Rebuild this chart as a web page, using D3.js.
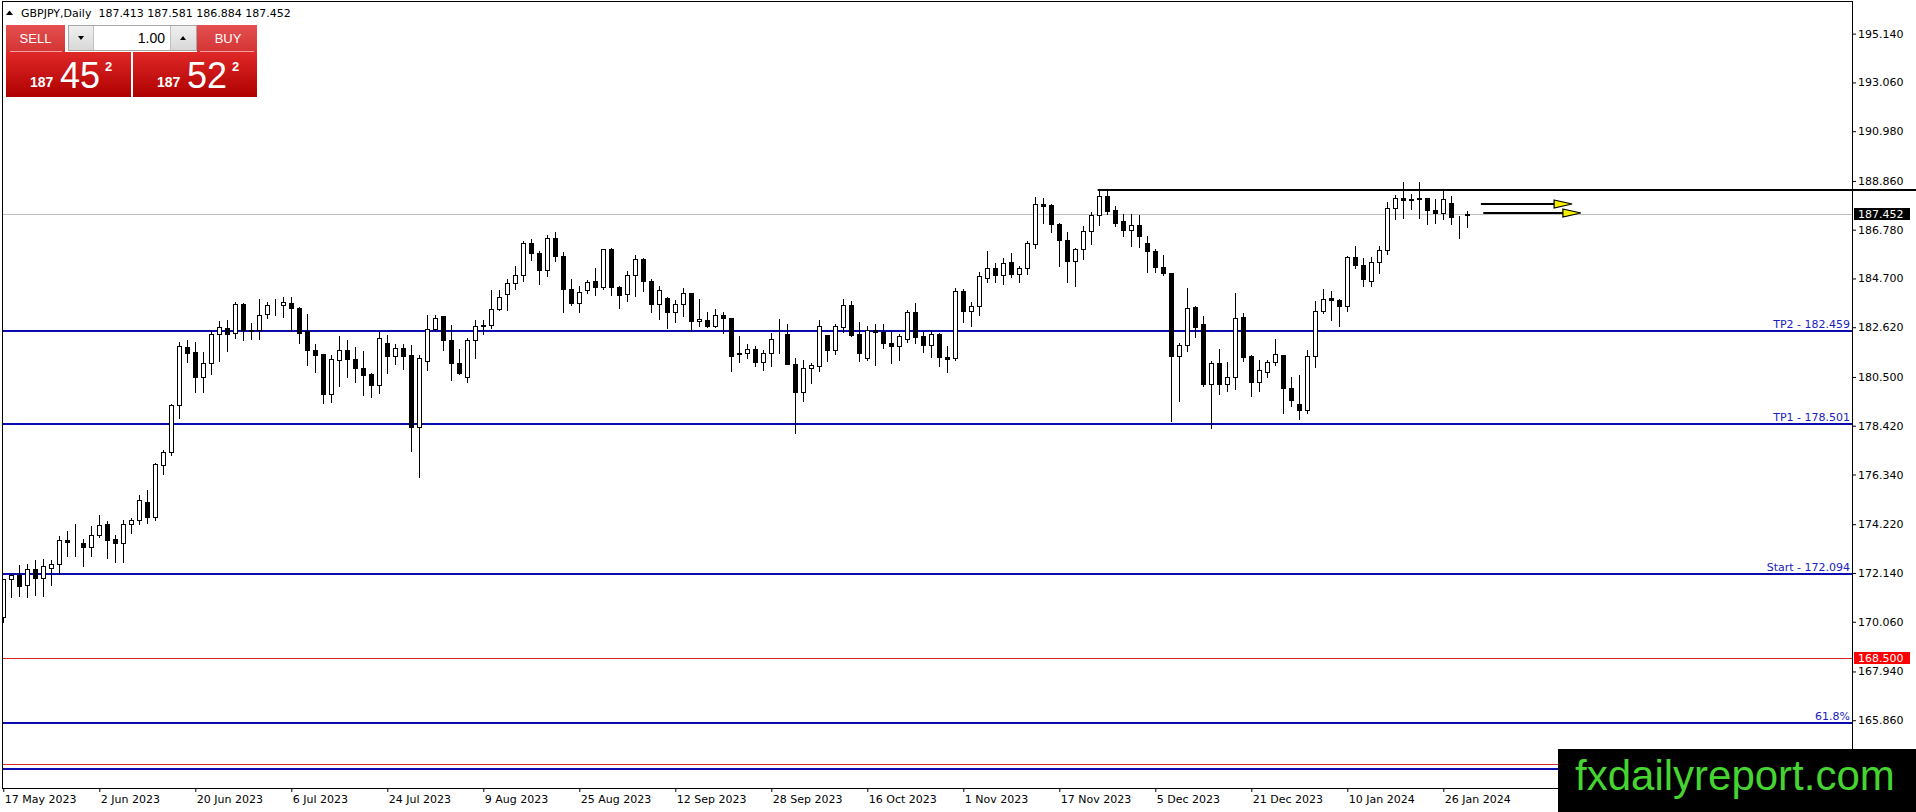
<!DOCTYPE html>
<html>
<head>
<meta charset="utf-8">
<script src="https://cdn.jsdelivr.net/npm/d3@7"></script>
<style>
body{margin:0;background:#fff;overflow:hidden}
svg{display:block}
</style>
</head>
<body>
<svg id="chart" width="1916" height="812"></svg>
<script>
const symbolTitle = "GBPJPY,Daily  187.413 187.581 186.884 187.452";

const openPrices = [
  170.26,171.87,172.07,171.64,172.32,171.94,172.36,172.52,173.56,173.47,
  173.43,173.25,173.77,174.24,173.57,173.42,174.24,174.41,175.16,174.52,
  176.76,177.31,179.32,181.79,181.55,180.50,181.11,182.35,182.60,182.37,
  183.60,182.46,182.52,183.20,183.58,183.58,183.67,183.45,182.45,181.66,
  181.47,179.79,181.24,181.66,181.28,180.90,180.62,180.17,181.96,181.41,
  181.75,181.42,178.37,181.18,182.56,183.08,182.09,181.11,180.50,182.09,
  182.67,182.73,183.41,184.05,184.52,184.86,186.22,185.79,185.07,186.43,
  185.66,184.26,183.65,184.19,184.60,184.33,185.96,184.33,184.05,184.86,
  185.51,184.60,183.62,183.88,183.27,183.62,184.09,182.88,182.94,182.67,
  183.15,183.01,181.46,181.53,181.71,181.14,181.54,182.13,182.32,181.07,
  179.87,180.90,180.97,182.28,181.67,182.63,183.58,182.32,181.31,182.52,
  182.42,181.96,181.82,182.13,183.29,182.23,181.88,182.35,181.33,181.29,
  184.18,183.31,183.51,184.72,185.14,184.85,185.41,184.89,185.14,186.16,
  187.86,187.82,187.04,186.33,185.43,185.95,186.71,187.41,188.21,187.60,
  187.15,186.77,186.98,186.23,185.88,185.20,184.93,181.40,181.85,183.48,
  182.74,180.22,181.10,180.22,180.51,183.05,181.38,180.27,180.69,181.12,
  181.43,180.01,179.35,179.10,181.40,183.31,183.87,183.79,183.52,185.60,
  185.27,184.61,185.41,185.92,187.69,188.14,188.03,188.10,188.12,187.62,
  187.51,187.90,187.33,187.413
];
const highPrices = [
  171.90,172.10,172.46,172.53,172.68,172.75,172.71,173.70,173.91,174.21,
  173.60,174.13,174.63,174.35,173.74,174.38,174.49,175.47,175.69,176.83,
  177.37,179.36,181.98,182.06,181.99,181.56,182.46,182.87,182.91,183.68,
  183.66,182.81,183.81,183.69,183.83,183.90,183.90,183.48,183.17,181.92,
  181.49,181.42,182.23,182.09,181.78,181.59,180.67,182.42,182.27,181.92,
  181.92,181.85,181.42,183.13,183.15,183.10,182.70,181.68,182.18,182.91,
  182.94,184.19,184.19,184.69,185.25,186.28,186.39,185.86,186.56,186.70,
  185.82,184.69,184.36,184.64,185.15,185.96,185.98,184.36,185.00,185.68,
  185.57,184.69,184.37,183.91,183.79,184.30,184.10,183.83,183.27,183.41,
  183.27,183.03,182.23,181.89,181.81,181.64,182.37,182.95,182.74,181.29,
  181.22,181.10,182.91,182.30,182.74,183.83,183.76,182.84,182.66,182.74,
  182.74,182.45,182.35,183.36,183.66,182.42,182.52,182.39,181.81,184.30,
  184.25,183.69,184.96,185.88,185.36,185.57,185.78,185.24,186.28,188.17,
  188.11,187.86,187.08,186.69,186.02,186.94,187.55,188.50,188.42,187.79,
  187.46,187.46,187.41,186.49,185.95,185.71,184.95,181.96,184.28,183.52,
  183.10,181.19,181.68,181.12,184.08,183.24,181.43,181.24,181.21,182.11,
  181.45,180.48,180.58,181.67,183.72,184.25,184.16,183.83,185.67,186.09,
  185.57,185.62,186.09,187.97,188.24,188.81,188.31,188.81,188.14,188.07,
  188.47,188.21,187.36,187.581
];
const lowPrices = [
  170.05,171.11,171.16,171.11,171.20,171.17,171.64,172.11,172.85,172.87,
  172.43,172.87,173.67,172.78,172.59,172.59,173.86,174.21,174.27,174.41,
  176.37,177.18,178.75,181.14,179.86,179.86,180.61,181.17,181.61,182.16,
  182.06,182.13,182.13,183.03,183.15,183.05,182.45,181.95,181.03,180.71,
  179.41,179.44,180.12,180.50,180.29,179.75,179.65,179.82,180.67,181.04,
  180.86,177.35,176.25,180.81,182.46,181.64,180.39,180.61,180.29,181.32,
  182.32,182.60,183.34,183.37,184.23,184.59,185.49,184.47,184.80,185.44,
  183.27,183.55,183.27,184.08,183.98,184.26,183.98,183.45,183.72,183.95,
  184.16,183.27,182.98,182.59,182.84,183.08,182.46,182.66,182.63,182.63,
  182.37,180.76,181.12,181.31,180.96,180.79,180.96,181.53,181.05,178.10,
  179.49,180.23,180.76,181.19,181.47,182.42,182.25,181.19,181.24,181.00,
  181.75,181.10,181.21,181.99,181.95,181.57,181.33,180.96,180.69,181.21,
  182.84,182.67,183.15,184.54,184.54,184.47,184.75,184.54,184.89,185.98,
  187.08,186.70,185.22,184.54,184.37,185.53,186.19,186.98,187.46,186.94,
  186.52,186.09,186.05,184.96,184.96,184.86,178.60,179.49,181.60,182.20,
  180.11,178.32,179.76,179.90,179.97,181.19,179.70,179.90,180.51,181.00,
  178.95,179.26,178.70,178.98,180.93,183.22,182.91,182.67,183.31,185.14,
  184.37,184.39,184.93,185.74,187.22,187.29,187.65,187.26,187.01,187.05,
  187.22,187.01,186.42,186.884
];
const closePrices = [
  171.87,172.07,171.58,172.32,171.92,172.42,172.53,173.56,173.47,173.46,
  173.25,173.77,174.19,173.54,173.42,174.24,174.42,175.26,174.52,176.77,
  177.31,179.32,181.83,181.52,180.50,181.11,182.35,182.63,182.35,183.60,
  182.49,182.52,183.15,183.58,183.56,183.71,183.45,182.37,181.66,181.44,
  179.79,181.28,181.66,181.28,180.88,180.60,180.17,182.17,181.40,181.75,
  181.41,178.37,181.32,182.56,183.03,182.09,181.10,180.67,182.09,182.67,
  182.73,183.41,183.91,184.52,184.86,186.22,185.79,185.07,186.43,185.65,
  184.23,183.65,184.12,184.57,184.33,185.96,184.33,184.01,184.86,185.54,
  184.59,183.62,184.22,183.27,183.62,184.08,182.88,182.98,182.67,183.15,
  183.01,181.40,181.54,181.71,181.14,181.54,182.13,182.12,181.07,179.87,
  180.90,181.00,182.66,181.64,182.66,183.58,182.28,181.53,182.52,182.43,
  181.95,181.82,182.23,183.29,182.20,181.88,182.35,181.33,181.27,184.18,
  183.31,183.51,184.82,185.13,184.85,185.34,184.89,185.14,186.20,187.86,
  187.80,187.01,186.33,185.43,185.95,186.71,187.41,188.21,187.58,187.08,
  186.77,186.97,186.49,185.85,185.17,184.92,181.40,181.85,183.43,182.63,
  180.22,181.10,180.22,180.51,183.02,181.36,180.27,180.79,181.12,181.47,
  180.01,179.52,179.10,181.40,183.31,183.83,183.79,183.52,185.62,185.27,
  184.68,185.41,185.92,187.69,188.14,188.03,188.10,188.12,187.60,187.51,
  188.07,187.33,187.30,187.452
];

const dateTickIndex = [0,12,24,36,48,60,72,84,96,108,120,132,144,156,168,180];
const dateTickLabels = ["17 May 2023","2 Jun 2023","20 Jun 2023","6 Jul 2023","24 Jul 2023",
  "9 Aug 2023","25 Aug 2023","12 Sep 2023","28 Sep 2023","16 Oct 2023","1 Nov 2023",
  "17 Nov 2023","5 Dec 2023","21 Dec 2023","10 Jan 2024","26 Jan 2024"];
const priceTicks = [195.140,193.060,190.980,188.860,186.780,184.700,182.620,180.500,
  178.420,176.340,174.220,172.140,170.060,167.940,165.860];

const blueLevels = [182.459, 178.501, 172.094, 165.74, 163.76];
const blueLabels = ["TP2 - 182.459", "TP1 - 178.501", "Start - 172.094", "61.8%", ""];
const redLevels = [168.5, 164.0];
const redAxisLabel = "168.500";
const bidPrice = 187.452;
const resistancePrice = 188.48;
const resistanceStart = 136.8;

const arrowStart = [184.7, 185.0];
const arrowEnd = [196.1, 197.2];
const arrowPrice = [187.875, 187.503];

const W = 1916, H = 812;
const plotLeft = 2, plotRight = 1852, plotTop = 2, plotBottom = 788;
const font = "'DejaVu Sans', sans-serif";

const x = d3.scaleLinear().domain([0, 183]).range([3.3, 3.3 + 8 * 183]);
const y = d3.scaleLinear().domain([162.97, 196.49]).range([plotBottom, plotTop]);

const svg = d3.select("#chart");
svg.append("rect").attr("width", W).attr("height", H).attr("fill", "#fff");

const defs = svg.append("defs");
defs.append("clipPath").attr("id", "plotClip")
    .append("rect").attr("x", plotLeft).attr("y", plotTop)
    .attr("width", plotRight - plotLeft).attr("height", plotBottom - plotTop);

let g1 = defs.append("linearGradient").attr("id", "headGrad").attr("x1", 0).attr("y1", 0).attr("x2", 0).attr("y2", 1);
g1.append("stop").attr("offset", "0%").attr("stop-color", "#e45050");
g1.append("stop").attr("offset", "100%").attr("stop-color", "#d43434");
let g2 = defs.append("linearGradient").attr("id", "priceGrad").attr("x1", 0).attr("y1", 0).attr("x2", 0).attr("y2", 1);
g2.append("stop").attr("offset", "0%").attr("stop-color", "#e02828");
g2.append("stop").attr("offset", "100%").attr("stop-color", "#ae0000");
let g3 = defs.append("linearGradient").attr("id", "btnGrad").attr("x1", 0).attr("y1", 0).attr("x2", 0).attr("y2", 1);
g3.append("stop").attr("offset", "0%").attr("stop-color", "#f0f0f0");
g3.append("stop").attr("offset", "100%").attr("stop-color", "#d8d8d8");

const plot = svg.append("g").attr("clip-path", "url(#plotClip)");

// horizontal levels
plot.append("line")
    .attr("x1", plotLeft).attr("x2", plotRight)
    .attr("y1", Math.round(y(bidPrice)) + 0.5).attr("y2", Math.round(y(bidPrice)) + 0.5)
    .attr("stroke", "#c0c0c0").attr("stroke-width", 1);

plot.selectAll(".red-level").data(redLevels).enter().append("line")
    .attr("class", "red-level")
    .attr("x1", plotLeft).attr("x2", plotRight)
    .attr("y1", d => Math.round(y(d)) + 0.5).attr("y2", d => Math.round(y(d)) + 0.5)
    .attr("stroke", "#d42424").attr("stroke-width", 1);

plot.selectAll(".blue-level").data(blueLevels).enter().append("line")
    .attr("class", "blue-level")
    .attr("x1", plotLeft).attr("x2", plotRight)
    .attr("y1", d => Math.round(y(d))).attr("y2", d => Math.round(y(d)))
    .attr("stroke", "#0b0bb0").attr("stroke-width", 2);

plot.selectAll(".blue-label").data(blueLevels).enter().append("text")
    .attr("x", plotRight - 2)
    .attr("y", d => Math.round(y(d)) - 3)
    .attr("text-anchor", "end")
    .attr("font-family", font).attr("font-size", "11px")
    .attr("fill", "#2020c4")
    .text((d, i) => blueLabels[i]);

// resistance ray, runs past the price axis
svg.append("line")
    .attr("x1", x(resistanceStart)).attr("x2", W)
    .attr("y1", Math.round(y(resistancePrice))).attr("y2", Math.round(y(resistancePrice)))
    .attr("stroke", "#000").attr("stroke-width", 2);

// candles
const bars = d3.range(openPrices.length).map(i => ({
    i: i, o: openPrices[i], h: highPrices[i], l: lowPrices[i], c: closePrices[i]
}));

const candle = plot.selectAll(".candle").data(bars).enter().append("g").attr("class", "candle");

candle.append("line")
    .attr("x1", d => Math.round(x(d.i)) + 0.5).attr("x2", d => Math.round(x(d.i)) + 0.5)
    .attr("y1", d => Math.round(y(d.h))).attr("y2", d => Math.round(y(d.l)) + 1)
    .attr("stroke", "#000").attr("stroke-width", 1);

candle.append("rect")
    .attr("x", d => Math.round(x(d.i)) - 1.5)
    .attr("y", d => Math.round(y(Math.max(d.o, d.c))) + 0.5)
    .attr("width", 4)
    .attr("height", d => Math.max(0, Math.round(y(Math.min(d.o, d.c))) - Math.round(y(Math.max(d.o, d.c)))))
    .attr("fill", d => d.c >= d.o ? "#fff" : "#000")
    .attr("stroke", "#000").attr("stroke-width", 1);

// arrows
const arrows = d3.range(arrowStart.length).map(i => ({s: arrowStart[i], e: arrowEnd[i], p: arrowPrice[i]}));
const arrow = svg.selectAll(".arrow").data(arrows).enter().append("g").attr("class", "arrow");
arrow.append("line")
    .attr("x1", d => x(d.s)).attr("x2", d => x(d.e) - 14)
    .attr("y1", d => Math.round(y(d.p))).attr("y2", d => Math.round(y(d.p)))
    .attr("stroke", "#000").attr("stroke-width", 2);
arrow.append("path")
    .attr("d", d => {
        const tx = x(d.e), ty = Math.round(y(d.p));
        return "M" + (tx - 18) + "," + (ty - 4) + "L" + tx + "," + ty + "L" + (tx - 18) + "," + (ty + 4) + "Z";
    })
    .attr("fill", "#f4f000").attr("stroke", "#000").attr("stroke-width", 1.2);

// axes
const yAxis = d3.axisRight(y)
    .tickValues(priceTicks)
    .tickFormat(d3.format(".3f"))
    .tickSize(4).tickSizeOuter(0);
const yg = svg.append("g").attr("transform", "translate(" + plotRight + ",0)").call(yAxis);
yg.select(".domain").remove();
yg.selectAll("text").attr("font-family", font).attr("font-size", "11px").attr("fill", "#000").attr("x", 6);
yg.selectAll("line").attr("stroke", "#000");

const xAxis = d3.axisBottom(x)
    .tickValues(dateTickIndex)
    .tickFormat((d, i) => dateTickLabels[i])
    .tickSize(4).tickSizeOuter(0);
const xg = svg.append("g").attr("transform", "translate(0," + plotBottom + ")").call(xAxis);
xg.select(".domain").remove();
xg.selectAll("text").attr("font-family", font).attr("font-size", "11px").attr("fill", "#000")
    .attr("text-anchor", "start").attr("dx", 1);
xg.selectAll("line").attr("stroke", "#000");

// frame
svg.append("rect")
    .attr("x", plotLeft + 0.5).attr("y", plotTop - 0.5)
    .attr("width", plotRight - plotLeft).attr("height", plotBottom - plotTop + 1)
    .attr("fill", "none").attr("stroke", "#000").attr("stroke-width", 1);

// price labels on the axis
function axisTag(price, label, bg){
    const cy = Math.round(y(price));
    svg.append("rect").attr("x", plotRight + 2).attr("y", cy - 6)
        .attr("width", 56).attr("height", 12).attr("fill", bg);
    svg.append("text").attr("x", plotRight + 6).attr("y", cy + 4)
        .attr("font-family", font).attr("font-size", "11px").attr("fill", "#fff")
        .text(label);
}
axisTag(bidPrice, d3.format(".3f")(bidPrice), "#000");
axisTag(redLevels[0], redAxisLabel, "#ff0000");

// title line
svg.append("path").attr("d", "M6,15L9.5,10.5L13,15Z").attr("fill", "#000");
svg.append("text").attr("x", 21).attr("y", 17)
    .attr("font-family", font).attr("font-size", "11px").attr("fill", "#000")
    .attr("xml:space", "preserve").style("white-space", "pre")
    .text(symbolTitle);

// one click trading panel
const panel = svg.append("g");
panel.append("rect").attr("x", 6).attr("y", 25).attr("width", 59).attr("height", 27).attr("fill", "url(#headGrad)");
panel.append("rect").attr("x", 197).attr("y", 25).attr("width", 60).attr("height", 27).attr("fill", "url(#headGrad)");
panel.append("line").attr("x1", 10).attr("x2", 62).attr("y1", 51.5).attr("y2", 51.5).attr("stroke", "#f0a0a0");
panel.append("line").attr("x1", 200).attr("x2", 254).attr("y1", 51.5).attr("y2", 51.5).attr("stroke", "#f0a0a0");
panel.append("text").attr("x", 35.5).attr("y", 43).attr("text-anchor", "middle")
    .attr("font-family", "'Liberation Sans', sans-serif").attr("font-size", "13px").attr("fill", "#fff").text("SELL");
panel.append("text").attr("x", 228).attr("y", 43).attr("text-anchor", "middle")
    .attr("font-family", "'Liberation Sans', sans-serif").attr("font-size", "13px").attr("fill", "#fff").text("BUY");

panel.append("rect").attr("x", 68.5).attr("y", 25.5).attr("width", 128).attr("height", 25)
    .attr("fill", "#fff").attr("stroke", "#a8a8a8");
panel.append("rect").attr("x", 69).attr("y", 26).attr("width", 24).attr("height", 24).attr("fill", "url(#btnGrad)");
panel.append("rect").attr("x", 171).attr("y", 26).attr("width", 25).attr("height", 24).attr("fill", "url(#btnGrad)");
panel.append("line").attr("x1", 93.5).attr("x2", 93.5).attr("y1", 26).attr("y2", 50).attr("stroke", "#c0c0c0");
panel.append("line").attr("x1", 170.5).attr("x2", 170.5).attr("y1", 26).attr("y2", 50).attr("stroke", "#c0c0c0");
panel.append("path").attr("d", "M78,36L84,36L81,40Z").attr("fill", "#000");
panel.append("path").attr("d", "M180,40L186,40L183,36Z").attr("fill", "#000");
panel.append("text").attr("x", 165).attr("y", 43).attr("text-anchor", "end")
    .attr("font-family", "'Liberation Sans', sans-serif").attr("font-size", "14px").attr("fill", "#000").text("1.00");

const quotes = [
    {x: 6, w: 125, big: "187", pips: "45", last: "2"},
    {x: 133, w: 124, big: "187", pips: "52", last: "2"}
];
quotes.forEach(q => {
    panel.append("rect").attr("x", q.x).attr("y", 52).attr("width", q.w).attr("height", 45).attr("fill", "url(#priceGrad)");
    panel.append("text").attr("x", q.x + 24).attr("y", 87)
        .attr("font-family", "'Liberation Sans', sans-serif").attr("font-weight", "bold")
        .attr("font-size", "14px").attr("fill", "#fff").text(q.big);
    panel.append("text").attr("x", q.x + 54).attr("y", 88)
        .attr("font-family", "'Liberation Sans', sans-serif")
        .attr("font-size", "36px").attr("fill", "#fff").text(q.pips);
    panel.append("text").attr("x", q.x + 99).attr("y", 71)
        .attr("font-family", "'Liberation Sans', sans-serif").attr("font-weight", "bold")
        .attr("font-size", "13px").attr("fill", "#fff").text(q.last);
});

// watermark box
svg.append("rect").attr("x", 1558).attr("y", 749).attr("width", W - 1558).attr("height", H - 749).attr("fill", "#000");
svg.append("text").attr("x", 1575).attr("y", 790)
    .attr("font-family", "'Liberation Sans', Arial, sans-serif").attr("font-size", "42px")
    .attr("fill", "#45d430").text("fxdailyreport.com");
</script>
</body>
</html>
